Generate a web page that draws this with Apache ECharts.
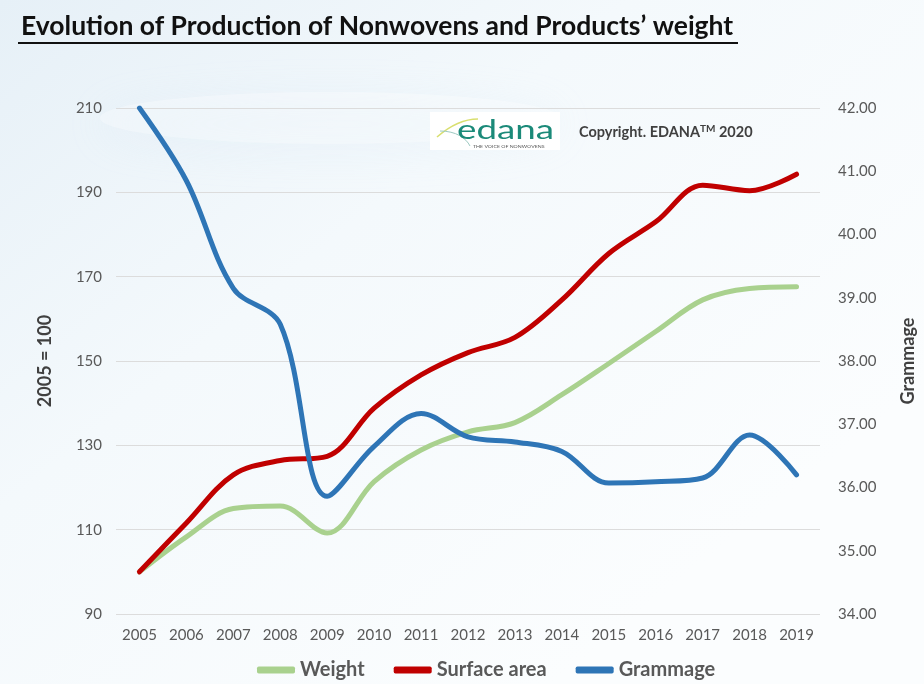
<!DOCTYPE html>
<html>
<head>
<meta charset="utf-8">
<script src="https://cdn.jsdelivr.net/npm/echarts@6/dist/echarts.min.js"></script>
<style>
  html, body { margin: 0; padding: 0; background: #fff; }
  #chart { width: 924px; height: 684px; }
</style>
</head>
<body>
<div id="chart"></div>
<script>
const years = ['2005', '2006', '2007', '2008', '2009', '2010', '2011', '2012',
  '2013', '2014', '2015', '2016', '2017', '2018', '2019'];
// index values, 2005 = 100
const weight = [100, 108.3, 115, 115.6, 109.2, 121.4, 128.9, 133.2, 135.4, 142, 149.4, 157, 164.5, 167.2, 167.6];
const surfaceArea = [100, 111.6, 123, 126.4, 127.4, 138.8, 146.7, 152, 155.6, 164.5, 175.5, 183, 191.7, 190.4, 194.3];
// grammage, right axis
const grammage = [42.0, 40.85, 39.15, 38.58, 35.86, 36.65, 37.17, 36.8, 36.72, 36.57, 36.07, 36.09, 36.15, 36.83, 36.2];

const font = 'Lato, "Open Sans", sans-serif';

const chart = echarts.init(document.getElementById('chart'));

const option = {
  backgroundColor: {
    type: 'linear', x: 0, y: 0, x2: 0.6, y2: 1,
    colorStops: [
      { offset: 0, color: '#e6f0f7' },
      { offset: 0.45, color: '#f4f9fc' },
      { offset: 1, color: '#fbfdfe' }
    ]
  },
  textStyle: { fontFamily: font },
  title: {
    text: 'Evolution of Production of Nonwovens and Products\u2019 weight',
    left: 16,
    top: 8,
    textStyle: { fontSize: 26.5, fontWeight: 'bold', color: '#111', fontFamily: font }
  },
  graphic: [
    // soft swoosh at the top of the plot
    {
      type: 'ellipse', z: -1, silent: true,
      shape: { cx: 330, cy: 118, rx: 230, ry: 26 },
      style: { fill: 'rgba(255,255,255,0.3)', shadowBlur: 40, shadowOffsetY: 6, shadowColor: 'rgba(205,228,242,0.6)' }
    },
    // title underline
    { type: 'rect', shape: { x: 18, y: 42, width: 720, height: 2 }, style: { fill: '#111' } },
    // logo box
    { type: 'rect', shape: { x: 430, y: 112, width: 130, height: 38 }, style: { fill: '#ffffff' } },
    {
      type: 'bezierCurve',
      shape: { x1: 437, y1: 137, x2: 478, y2: 119, cpx1: 452, cpy1: 124, cpx2: 466, cpy2: 119 },
      style: { stroke: '#d9df6f', lineWidth: 1.6, fill: null }
    },
    {
      type: 'bezierCurve',
      shape: { x1: 440, y1: 131, x2: 470, y2: 146, cpx1: 456, cpy1: 131, cpx2: 466, cpy2: 138 },
      style: { stroke: '#9cc9c1', lineWidth: 1, fill: null }
    },
    {
      type: 'text', x: 457, y: 117, scaleX: 1.36,
      style: { text: 'edana', fontSize: 27, fontFamily: font, fill: '#1b8a79' }
    },
    {
      type: 'text', x: 473, y: 145, scaleX: 1.3,
      style: { text: 'THE VOICE OF NONWOVENS', fontSize: 4, fontFamily: font, fill: '#555' }
    },
    {
      type: 'text', left: 579, top: 124,
      style: {
        text: '{a|Copyright. EDANA}{s|TM}{a| 2020}',
        rich: {
          a: { fontSize: 14.5, fontWeight: 'bold', fill: '#404040', fontFamily: font },
          s: { fontSize: 10, fontWeight: 'bold', fill: '#404040', fontFamily: font, verticalAlign: 'top', padding: [0, 0, 7, 0] }
        }
      }
    }
  ],
  legend: {
    bottom: -1,
    left: 252,
    itemWidth: 38,
    itemHeight: 7,
    itemGap: 29,
    icon: 'roundRect',
    textStyle: { fontSize: 20, color: '#595959', fontFamily: font, fontWeight: 'bold' },
    data: ['Weight', 'Surface area', 'Grammage']
  },
  grid: { left: 116, right: 104, top: 108, height: 506, outerBoundsMode: 'none', containLabel: false },
  xAxis: {
    type: 'category',
    data: years,
    boundaryGap: true,
    axisLine: { show: false },
    axisTick: { show: false },
    axisLabel: { fontSize: 15, color: '#595959', margin: 14, interval: 0 }
  },
  yAxis: [
    {
      type: 'value',
      min: 90, max: 210, interval: 20,
      name: '2005 = 100',
      nameLocation: 'middle',
      nameGap: 62,
      nameTextStyle: { fontSize: 18, fontWeight: 'bold', color: '#404040' },
      axisLine: { show: false },
      axisTick: { show: false },
      axisLabel: { fontSize: 15, color: '#595959', margin: 14 },
      splitLine: { lineStyle: { color: '#dcdcdc', width: 1 } }
    },
    {
      type: 'value',
      min: 34, max: 42, interval: 1,
      name: 'Grammage',
      nameLocation: 'middle',
      nameGap: 79,
      nameRotate: 90,
      nameTextStyle: { fontSize: 18, fontWeight: 'bold', color: '#404040' },
      axisLine: { show: false },
      axisTick: { show: false },
      axisLabel: { fontSize: 15, color: '#595959', margin: 18, formatter: v => v.toFixed(2) },
      splitLine: { show: false }
    }
  ],
  series: [
    {
      name: 'Weight', type: 'line', data: weight, yAxisIndex: 0,
      smooth: 0.35, symbol: 'none', color: '#a9d18e',
      lineStyle: { width: 5, color: '#a9d18e', cap: 'round' }
    },
    {
      name: 'Surface area', type: 'line', data: surfaceArea, yAxisIndex: 0,
      smooth: 0.35, symbol: 'none', color: '#c00000',
      lineStyle: { width: 5, color: '#c00000', cap: 'round' }
    },
    {
      name: 'Grammage', type: 'line', data: grammage, yAxisIndex: 1,
      smooth: 0.35, symbol: 'none', color: '#2e75b6',
      lineStyle: { width: 5, color: '#2e75b6', cap: 'round' }
    }
  ]
};

chart.setOption(option);
</script>
</body>
</html>
